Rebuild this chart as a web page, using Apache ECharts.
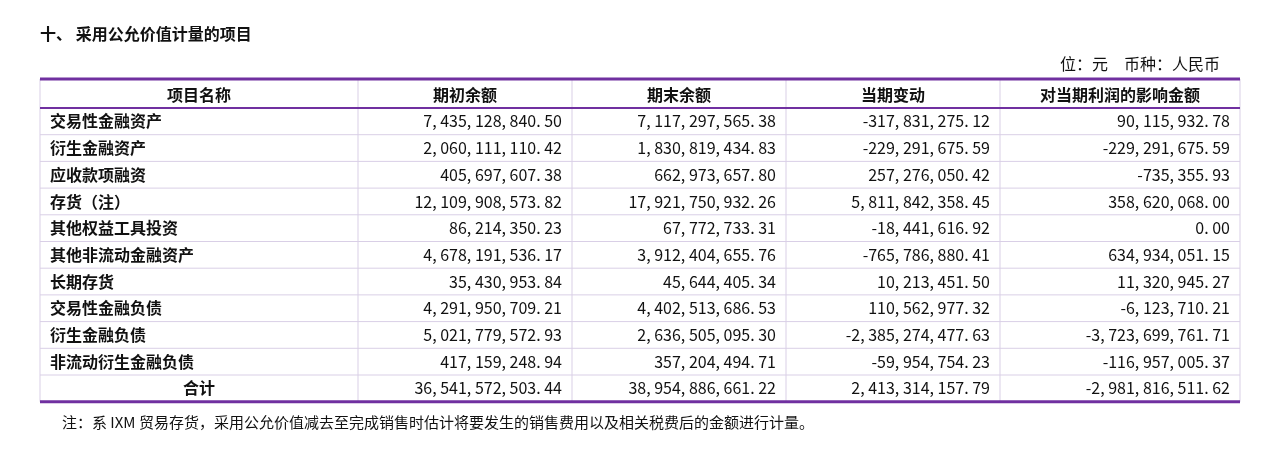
<!DOCTYPE html>
<html><head><meta charset="utf-8">
<script src="https://cdn.jsdelivr.net/npm/echarts@6/dist/echarts.min.js"></script>
<style>html,body{margin:0;background:#fff}#main{width:1274px;height:476px}</style>
</head><body><div id="main"></div>
<script>
const title = '十、 采用公允价值计量的项目'
const unitText = '位：元　币种：人民币'
const headers = ['项目名称', '期初余额', '期末余额', '当期变动', '对当期利润的影响金额']
const items = ['交易性金融资产', '衍生金融资产', '应收款项融资', '存货（注）', '其他权益工具投资', '其他非流动金融资产', '长期存货', '交易性金融负债', '衍生金融负债', '非流动衍生金融负债', '合计']
const openBal = ['7,435,128,840.50', '2,060,111,110.42', '405,697,607.38', '12,109,908,573.82', '86,214,350.23', '4,678,191,536.17', '35,430,953.84', '4,291,950,709.21', '5,021,779,572.93', '417,159,248.94', '36,541,572,503.44']
const closeBal = ['7,117,297,565.38', '1,830,819,434.83', '662,973,657.80', '17,921,750,932.26', '67,772,733.31', '3,912,404,655.76', '45,644,405.34', '4,402,513,686.53', '2,636,505,095.30', '357,204,494.71', '38,954,886,661.22']
const change = ['-317,831,275.12', '-229,291,675.59', '257,276,050.42', '5,811,842,358.45', '-18,441,616.92', '-765,786,880.41', '10,213,451.50', '110,562,977.32', '-2,385,274,477.63', '-59,954,754.23', '2,413,314,157.79']
const profit = ['90,115,932.78', '-229,291,675.59', '-735,355.93', '358,620,068.00', '0.00', '634,934,051.15', '11,320,945.27', '-6,123,710.21', '-3,723,699,761.71', '-116,957,005.37', '-2,981,816,511.62']
const note = '注：系 IXM 贸易存货，采用公允价值减去至完成销售时估计将要发生的销售费用以及相关税费后的金额进行计量。'

const fmt = s => s.replace(/,/g, ', ').replace('.', '. ')
const colX = [40, 358, 572, 786, 1000, 1240]
const tableTop = 79, headH = 29, rowH = 26.7
const purple = '#7030a0', grid = '#d9cfe6'
const font = '"Noto Sans CJK SC", sans-serif'
const els = []
const txt = (x, y, t, align, bold, size) => els.push({type: 'text', x, y, style: {text: t, fill: '#111', font: (bold ? 'bold ' : '') + (size || 16) + 'px ' + font, textAlign: align, textVerticalAlign: 'middle'}})
const line = (x1, y1, x2, y2, c, w) => els.push({type: 'line', shape: {x1, y1, x2, y2}, style: {stroke: c, lineWidth: w}})

txt(40, 34, title, 'left', true, 16)
txt(1220, 64, unitText, 'right', false, 16)
const tableBottom = tableTop + headH + rowH * items.length
for (let i = 1; i < items.length; i++) line(40, tableTop + headH + rowH * i, 1240, tableTop + headH + rowH * i, grid, 1)
colX.forEach(x => line(x, tableTop, x, tableBottom, grid, 1))
line(40, tableTop, 1240, tableTop, purple, 3)
line(40, tableTop + headH, 1240, tableTop + headH, purple, 2)
line(40, tableBottom, 1240, tableBottom, purple, 3)
headers.forEach((h, i) => txt((colX[i] + colX[i + 1]) / 2, tableTop + headH / 2 + 1, h, 'center', true, 16))
const cols = [openBal, closeBal, change, profit]
items.forEach((name, r) => {
  const y = tableTop + headH + rowH * (r + 0.5)
  const total = r === items.length - 1
  if (total) txt((colX[0] + colX[1]) / 2, y, name, 'center', true, 16)
  else txt(50, y, name, 'left', true, 16)
  cols.forEach((c, j) => txt(colX[j + 2] - 10, y, fmt(c[r]), 'right', false, 16))
})
txt(62, 422, note, 'left', false, 15)

const chart = echarts.init(document.getElementById('main'))
chart.setOption({graphic: {elements: els}})
</script></body></html>
